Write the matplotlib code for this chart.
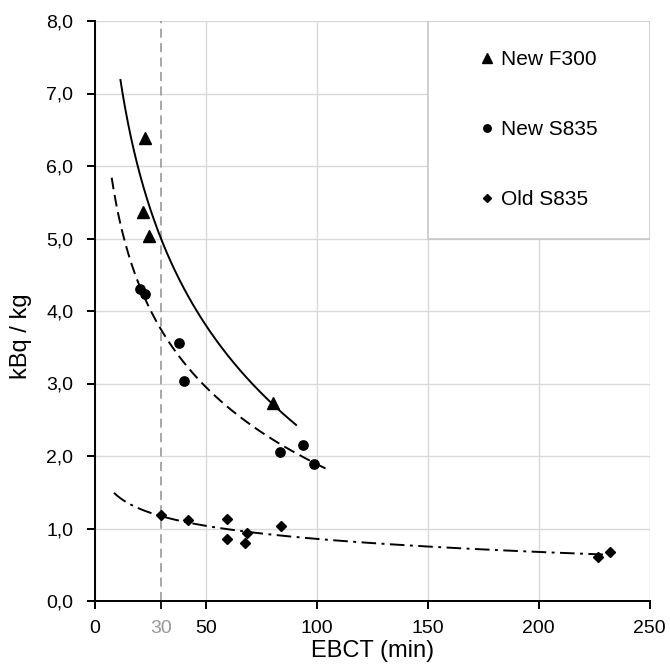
import numpy as np
import matplotlib
matplotlib.use("Agg")
import matplotlib.pyplot as plt
from matplotlib.patches import Rectangle
from matplotlib.ticker import FuncFormatter

# Data
f300_x = [22.7, 21.9, 24.6, 80.2]
f300_y = [6.39, 5.36, 5.03, 2.73]
new_s835_x = [20.4, 22.7, 37.8, 40.2, 83.5, 93.7, 98.8]
new_s835_y = [4.31, 4.24, 3.56, 3.03, 2.05, 2.15, 1.89]
old_s835_x = [29.9, 41.9, 59.5, 59.5, 68.5, 67.8, 83.8, 226.9, 232.1]
old_s835_y = [1.18, 1.12, 1.13, 0.855, 0.94, 0.80, 1.03, 0.61, 0.67]
labels = ["New F300", "New S835", "Old S835"]
# trendline x-extent (Excel forecast range)
f300_range = [11.6, 90.7]
new_range = [7.65, 106.3]
old_range = [8.7, 231.0]
x_ticks = [0, 30, 50, 100, 150, 200, 250]
y_ticks = [0, 1, 2, 3, 4, 5, 6, 7, 8]
ref_x = 30

plt.rcParams['font.family'] = ['Liberation Sans', 'DejaVu Sans']

fig = plt.figure(figsize=(6.70, 6.67), dpi=100)
ax = fig.add_axes([94.7 / 670, 1 - 601 / 667, 555 / 670, 580 / 667])


def log_trend(xs, ys, rng):
    b, a = np.polyfit(np.log(xs), ys, 1)
    xx = np.linspace(rng[0], rng[1], 300)
    return xx, a + b * np.log(xx)


xx, yy = log_trend(f300_x, f300_y, f300_range)
ax.plot(xx, yy, color='black', lw=1.4, ls='-', zorder=3)
xx, yy = log_trend(new_s835_x, new_s835_y, new_range)
ax.plot(xx, yy, color='black', lw=1.4, ls=(0, (6, 3)), zorder=3)
xx, yy = log_trend(old_s835_x, old_s835_y, old_range)
ax.plot(xx, yy, color='black', lw=1.4, ls=(0, (7.5, 2.8, 1.5, 2.8)), zorder=3)

ax.axvline(ref_x, color='#a0a0a0', lw=1.3, ls=(0, (5, 3)), zorder=2)

h1, = ax.plot(f300_x, f300_y, ls='none', marker='^', ms=8.5, color='black', label=labels[0], zorder=4)
h2, = ax.plot(new_s835_x, new_s835_y, ls='none', marker='o', ms=6.7, color='black', label=labels[1], zorder=4)
h3, = ax.plot(old_s835_x, old_s835_y, ls='none', marker='D', ms=5.0, color='black', label=labels[2], zorder=4)

ax.set_xlim(0, 250)
ax.set_ylim(0, 8)
ax.set_xticks(x_ticks)
ax.set_yticks(y_ticks)
ax.yaxis.set_major_formatter(FuncFormatter(lambda v, p: f"{v:.1f}".replace('.', ',')))
ax.grid(True, color='#d9d9d9', lw=1.0, zorder=0)
ax.set_axisbelow(True)
for s in ['top', 'right']:
    ax.spines[s].set_visible(False)
for s in ['left', 'bottom']:
    ax.spines[s].set_linewidth(1.4)
ax.tick_params(axis='both', direction='out', length=6, width=1.4, labelsize=14)
ax.tick_params(axis='x', pad=8)
ax.tick_params(axis='y', pad=9.5)

# gray "30" tick
for t, v in zip(ax.xaxis.get_major_ticks(), x_ticks):
    if v == ref_x:
        t.label1.set_color('#999999')
        t.tick1line.set_color('#a0a0a0')
        t.tick1line.set_markeredgewidth(1.3)
        t.gridline.set_visible(False)

ax.set_xlabel("EBCT (min)", fontsize=17)
ax.set_ylabel("kBq / kg", fontsize=17)
ax.xaxis.set_label_coords(0.5, (601 - 640) / 580)
ax.yaxis.set_label_coords((32 - 94.7) / 555, (601 - 336) / 580)

# legend box
box = (0.601, 0.625, 0.399, 0.375)
ax.add_patch(Rectangle((box[0], box[1]), box[2], box[3], transform=ax.transAxes,
                       facecolor='white', edgecolor='#c8c8c8', lw=1.2, zorder=6))
leg = ax.legend(handles=[h1, h2, h3], loc='center', bbox_to_anchor=box, frameon=False,
                fontsize=15, labelspacing=2.45, handlelength=0.6, handletextpad=0.35,
                markerscale=0.8)
leg.set_zorder(7)

fig.savefig("out.png", dpi=100)
